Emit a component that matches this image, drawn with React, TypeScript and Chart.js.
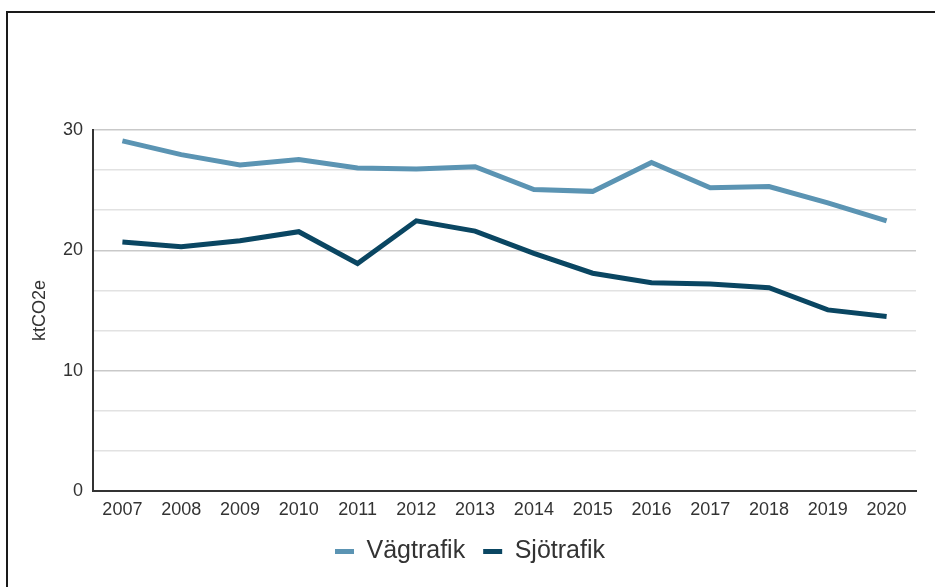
import React, { useEffect, useRef } from "react";
import { Chart, registerables } from "chart.js";

Chart.register(...registerables);

const years = ["2007", "2008", "2009", "2010", "2011", "2012", "2013", "2014", "2015", "2016", "2017", "2018", "2019", "2020"];
const vagtrafik = [29.1, 27.95, 27.1, 27.55, 26.85, 26.75, 26.95, 25.05, 24.9, 27.3, 25.2, 25.3, 23.95, 22.45];
const sjotrafik = [20.7, 20.3, 20.8, 21.55, 18.9, 22.45, 21.6, 19.75, 18.1, 17.3, 17.2, 16.9, 15.05, 14.5];
const yTickValues = [0, 10 / 3, 20 / 3, 10, 40 / 3, 50 / 3, 20, 70 / 3, 80 / 3, 30];
const yAxisTitle = "ktCO2e";

const VAG_COLOR = "#5b94b3";
const SJO_COLOR = "#0a4662";
const FONT = "'Liberation Sans', Arial, sans-serif";

const isMajor = (v: number) => Math.abs(v - Math.round(v / 10) * 10) < 0.001;

export default function App() {
  const ref = useRef<HTMLCanvasElement | null>(null);

  useEffect(() => {
    if (!ref.current) return;
    const chart = new Chart(ref.current, {
      type: "line",
      data: {
        labels: years,
        datasets: [
          {
            label: "Vägtrafik",
            data: vagtrafik,
            borderColor: VAG_COLOR,
            backgroundColor: VAG_COLOR,
            borderWidth: 5,
            pointRadius: 0,
            tension: 0,
          },
          {
            label: "Sjötrafik",
            data: sjotrafik,
            borderColor: SJO_COLOR,
            backgroundColor: SJO_COLOR,
            borderWidth: 5,
            pointRadius: 0,
            tension: 0,
          },
        ],
      },
      options: {
        responsive: false,
        animation: false,
        devicePixelRatio: 1,
        layout: { padding: { top: 130, left: 24, right: 19, bottom: 13 } },
        plugins: {
          tooltip: { enabled: false },
          legend: {
            position: "bottom",
            labels: {
              font: { family: FONT, size: 25 },
              color: "#333333",
              boxWidth: 19,
              boxHeight: 5,
              padding: 18,
              generateLabels: (c: any) => {
                const items = Chart.defaults.plugins.legend.labels.generateLabels(c);
                return items.map((it: any) => ({ ...it, lineWidth: 0 }));
              },
            },
          },
        },
        scales: {
          x: {
            offset: true,
            grid: { display: false, drawTicks: false },
            border: { display: true, color: "#333333", width: 2 },
            ticks: {
              color: "#333333",
              font: { family: FONT, size: 18 },
              padding: 8,
              maxRotation: 0,
              autoSkip: false,
            },
            afterFit: (scale: any) => {
              scale.height = 30;
            },
          },
          y: {
            min: 0,
            max: 30,
            afterBuildTicks: (scale: any) => {
              scale.ticks = yTickValues.map((v) => ({ value: v }));
            },
            grid: {
              drawTicks: false,
              color: (ctx: any) => (isMajor(ctx.tick?.value ?? 0) ? "#c9c9c9" : "#e2e2e2"),
              lineWidth: 1.5,
            },
            border: { display: true, color: "#333333", width: 2 },
            ticks: {
              color: "#333333",
              font: { family: FONT, size: 18 },
              padding: 10,
              callback: (v: any) => (isMajor(Number(v)) ? String(Math.round(Number(v))) : ""),
            },
            title: {
              display: true,
              text: yAxisTitle,
              color: "#333333",
              font: { family: FONT, size: 18 },
              padding: { top: 5, bottom: 0 },
            },
            afterFit: (scale: any) => {
              scale.width = 69;
            },
          },
        },
      },
    });
    return () => chart.destroy();
  }, []);

  return (
    <div style={{ position: "absolute", left: 0, top: 0, width: 935, height: 587, background: "#fff", overflow: "hidden" }}>
      <div
        style={{
          position: "absolute",
          left: 6,
          top: 11,
          width: 940,
          height: 600,
          borderTop: "2px solid #1a1a1a",
          borderLeft: "2px solid #1a1a1a",
        }}
      />
      <canvas ref={ref} width={935} height={587} style={{ position: "absolute", left: 0, top: 0 }} />
    </div>
  );
}
